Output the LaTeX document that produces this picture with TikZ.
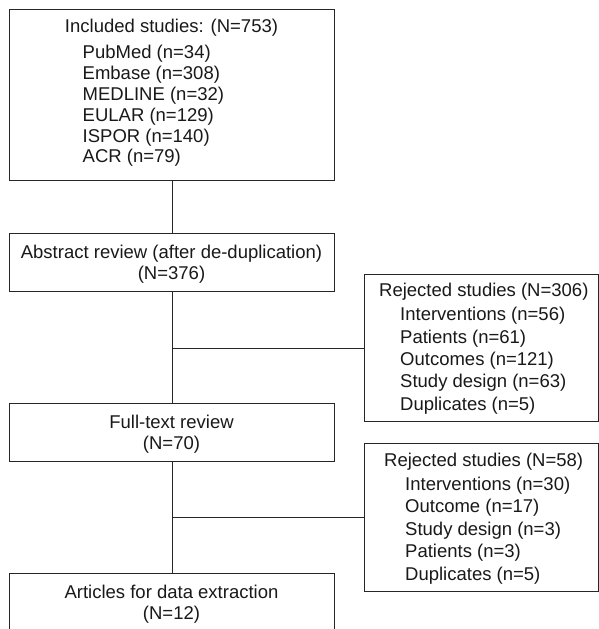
\documentclass[tikz,border=0pt]{standalone}
\usepackage{fontspec}
\setmainfont{Liberation Sans}
\begin{document}
\begin{tikzpicture}[x=1pt,y=-1pt,
  box/.style={draw=black!85,line width=1.4pt,inner sep=0pt,anchor=north west},
  lbl/.style={inner sep=0pt,font=\fontsize{18.5}{21}\selectfont,text=black!90},
  conn/.style={draw=black!85,line width=1.4pt}]
\useasboundingbox (0,0) rectangle (599,629);
\fill[white] (0,0) rectangle (599,629);
% boxes
\node[box,minimum width=325pt,minimum height=171pt] (inc) at (9,9) {};
\node[box,minimum width=325pt,minimum height=58pt] (abs) at (9,233) {};
\node[box,minimum width=325pt,minimum height=58pt] (full) at (9,403) {};
\node[box,minimum width=325pt,minimum height=58pt] (art) at (9,573) {};
\node[box,minimum width=234pt,minimum height=147pt] (rej1) at (364,274) {};
\node[box,minimum width=234pt,minimum height=148pt] (rej2) at (364,443) {};
% connectors
\draw[conn] (inc.south) -- (abs.north);
\draw[conn] (abs.south) -- (full.north);
\draw[conn] (full.south) -- (art.north);
\draw[conn] (abs.south |- rej1.west) -- (rej1.west);
\draw[conn] (full.south |- rej2.west) -- (rej2.west);
% included
\node[lbl,anchor=base] (incT) at (171.5,32.7) {Included studies: (N=753)};
\node[lbl,anchor=base west] (inc1) at (82.5,58) {PubMed (n=34)};
\node[lbl,anchor=base west] (inc2) at (82.5,79) {Embase (n=308)};
\node[lbl,anchor=base west] (inc3) at (82.5,100) {MEDLINE (n=32)};
\node[lbl,anchor=base west] (inc4) at (82.5,121) {EULAR (n=129)};
\node[lbl,anchor=base west] (inc5) at (82.5,142) {ISPOR (n=140)};
\node[lbl,anchor=base west] (inc6) at (82.5,162.5) {ACR (n=79)};
% abstract
\node[lbl,anchor=base] (absT1) at (171.5,258) {Abstract review (after de-duplication)};
\node[lbl,anchor=base] (absT2) at (171.5,279) {(N=376)};
% full text
\node[lbl,anchor=base] (fullT1) at (171.5,428) {Full-text review};
\node[lbl,anchor=base] (fullT2) at (171.5,449) {(N=70)};
% articles
\node[lbl,anchor=base] (artT1) at (171.5,598) {Articles for data extraction};
\node[lbl,anchor=base] (artT2) at (171.5,619) {(N=12)};
% rejected 1
\node[lbl,anchor=base west] (r1T) at (379,296) {Rejected studies (N=306)};
\node[lbl,anchor=base west] (r11) at (400,320.7) {Interventions (n=56)};
\node[lbl,anchor=base west] (r12) at (400,343) {Patients (n=61)};
\node[lbl,anchor=base west] (r13) at (400,365.3) {Outcomes (n=121)};
\node[lbl,anchor=base west] (r14) at (400,387.6) {Study design (n=63)};
\node[lbl,anchor=base west] (r15) at (400,410) {Duplicates (n=5)};
% rejected 2
\node[lbl,anchor=base west] (r2T) at (384,466.7) {Rejected studies (N=58)};
\node[lbl,anchor=base west] (r21) at (405,490) {Interventions (n=30)};
\node[lbl,anchor=base west] (r22) at (405,512.5) {Outcome (n=17)};
\node[lbl,anchor=base west] (r23) at (405,535) {Study design (n=3)};
\node[lbl,anchor=base west] (r24) at (405,557.5) {Patients (n=3)};
\node[lbl,anchor=base west] (r25) at (405,580) {Duplicates (n=5)};
\end{tikzpicture}
\end{document}
